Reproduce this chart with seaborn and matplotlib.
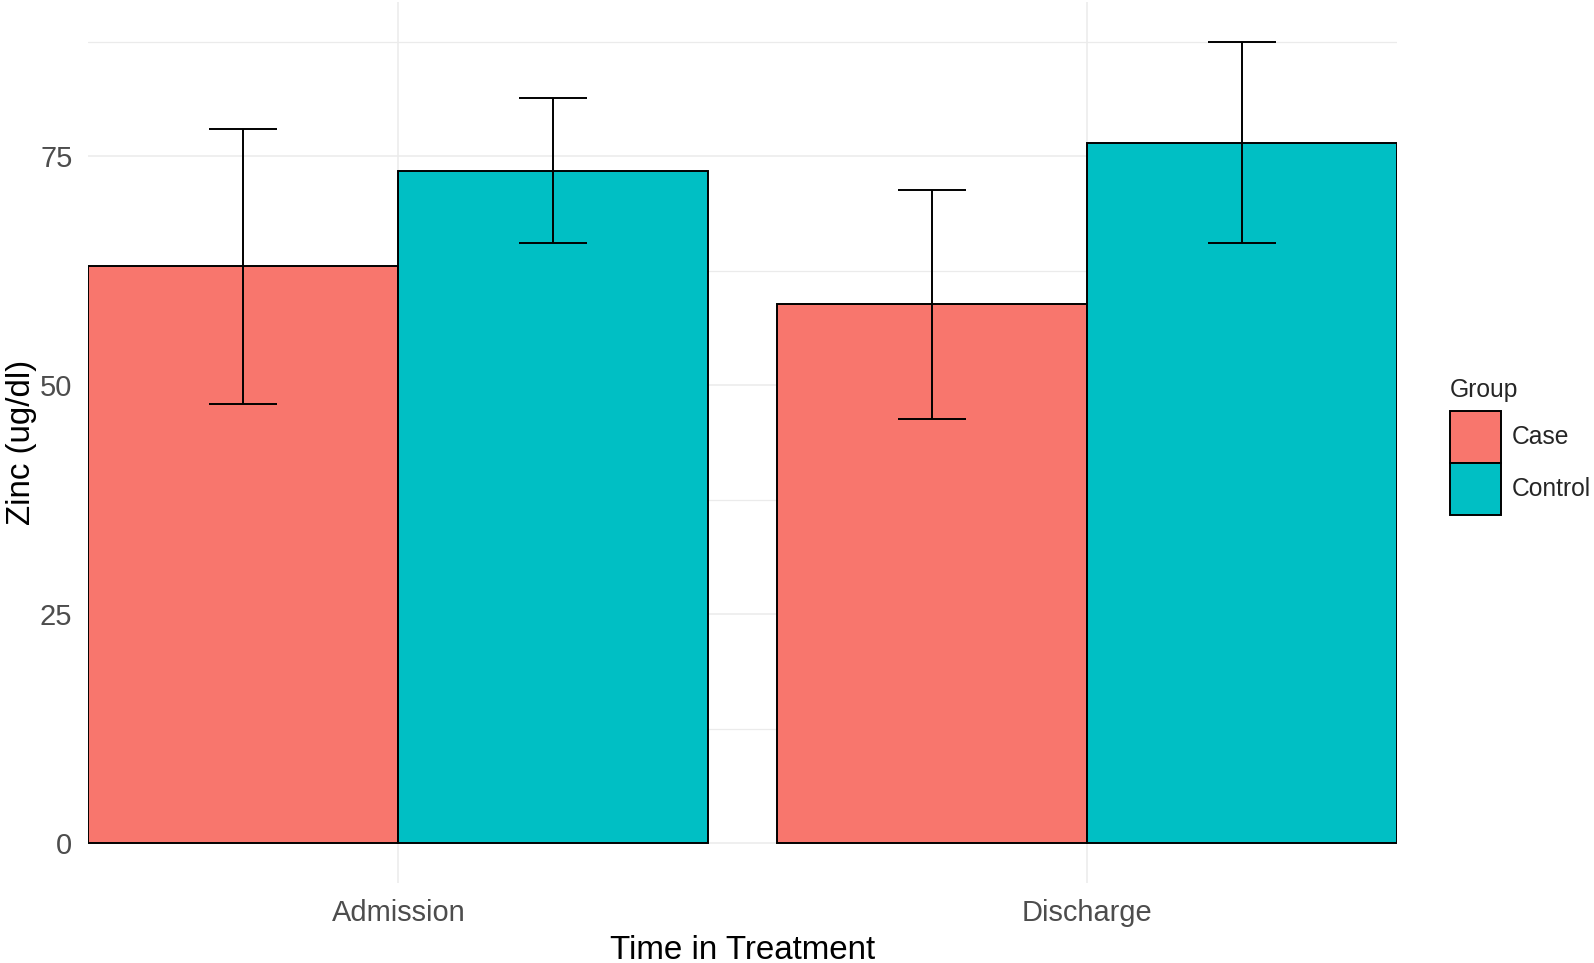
import numpy as np
import pandas as pd
import matplotlib.pyplot as plt
import seaborn as sns
from matplotlib.patches import Patch

# values (mean +/- sd)
times = ["Admission", "Discharge"]
groups = ["Case", "Control"]
case_mean = [63.0, 58.85]
case_sd = [15.0, 12.5]
control_mean = [73.45, 76.5]
control_sd = [7.9, 11.0]
colors = ["#F8766D", "#00BFC4"]

df = pd.DataFrame({
    "time": times * 2,
    "group": ["Case"] * 2 + ["Control"] * 2,
    "zinc": case_mean + control_mean,
    "sd": case_sd + control_sd,
})

sns.set_style("white")
plt.rcParams["font.family"] = ["Liberation Sans", "DejaVu Sans"]

fig = plt.figure(figsize=(15.94, 9.63), dpi=100)
ax = fig.add_axes([0.0555, 0.0831, 0.8209, 0.9148])

sns.barplot(data=df, x="time", y="zinc", hue="group", order=times, hue_order=groups,
            palette=colors, width=0.9, gap=0, errorbar=None, edgecolor="black",
            linewidth=1.4, saturation=1, legend=False, ax=ax)

# error bars at bar centres
for cont, g in zip(ax.containers, groups):
    sub = df[df["group"] == g].set_index("time").loc[times]
    xs = [b.get_x() + b.get_width() / 2 for b in cont]
    ax.errorbar(xs, sub["zinc"], yerr=sub["sd"], fmt="none", ecolor="black",
                elinewidth=1.4, capsize=24.8, capthick=1.4, zorder=3)

ax.set_xlim(-0.45, 1.45)
ax.set_ylim(-4.375, 91.875)
ax.set_yticks([0, 25, 50, 75])
ax.set_yticks([12.5, 37.5, 62.5, 87.5], minor=True)

ax.set_axisbelow(True)
ax.grid(axis="y", which="major", color="#EBEBEB", linewidth=1.1)
ax.grid(axis="y", which="minor", color="#EBEBEB", linewidth=0.9)
ax.grid(axis="x", which="major", color="#EBEBEB", linewidth=1.1)
for s in ax.spines.values():
    s.set_visible(False)

ax.tick_params(axis="both", which="both", length=0, labelsize=20.9, labelcolor="#4D4D4D")
ax.tick_params(axis="y", pad=11.5)
ax.tick_params(axis="x", pad=11.5)

ax.set_xlabel("Time in Treatment", fontsize=23.9, labelpad=5.5, color="black")
ax.set_ylabel("Zinc (ug/dl)", fontsize=23.9, labelpad=2, color="black")

handles = [Patch(facecolor=c, edgecolor="black", linewidth=1.4, label=g)
           for c, g in zip(colors, groups)]
leg = fig.legend(handles=handles, title="Group", loc="upper left",
                 bbox_to_anchor=(0.9097, 0.6075), frameon=False, fontsize=17.7,
                 title_fontsize=17.7, handlelength=2.07, handleheight=2.875,
                 labelspacing=0, handletextpad=0.45, borderpad=0,
                 borderaxespad=0, alignment="left")
leg._legend_box.sep = 6.5

fig.savefig("out.png", dpi=100)
